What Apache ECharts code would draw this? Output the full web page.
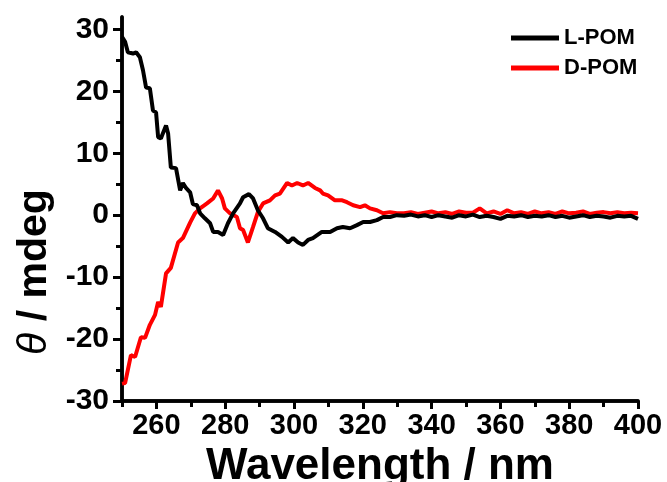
<!DOCTYPE html>
<html>
<head>
<meta charset="utf-8">
<script src="https://cdn.jsdelivr.net/npm/echarts@6/dist/echarts.min.js"></script>
<style>
  html, body { margin: 0; padding: 0; background: #fff; }
  #main { width: 667px; height: 482px; }
</style>
</head>
<body>
<div id="main"></div>
<script>
// L-POM (black)
var lWave = [250, 250.9, 251.7, 253.2, 254.1, 255.2, 256.1, 257.0, 258.1, 259.0, 259.9, 260.5, 261.3, 262.8, 263.4, 264.2,
  265.7, 266.9, 267.7, 268.6, 269.8, 270.6, 271.8, 272.7, 274.1, 275.6, 276.5, 277.9, 279.4, 280.8, 282.3, 284.3,
  285.2, 286.9, 288.1, 289.5, 291.0, 292.4, 294.5, 296.5, 298.3, 299.7, 301.2, 302.6, 304.1, 305.5, 308.1, 310.5,
  312.5, 314.2, 316.3, 318.3, 320.1, 322.1, 324.1, 325.9, 327.9, 329.9,
  332, 334, 336, 338, 340, 342, 344, 346, 348, 350, 352, 354, 356, 358, 360, 362, 364, 366, 368, 370,
  372, 374, 376, 378, 380, 382, 384, 386, 388, 390, 392, 394, 396, 398, 400]
var lTheta = [28.8, 28.0, 26.3, 26.1, 26.3, 25.5, 23.4, 20.6, 20.5, 16.9, 16.6, 12.6, 12.4, 14.5, 13.2, 7.7,
  7.6, 4.0, 5.2, 4.4, 3.7, 1.8, 1.6, 0.3, -0.5, -1.3, -2.7, -2.7, -3.2, -1.3, 0.3, 1.9,
  2.9, 3.4, 2.7, 0.8, -0.5, -2.1, -2.7, -3.5, -4.4, -3.7, -4.4, -4.8, -4.0, -3.7, -2.7, -2.7,
  -2.1, -1.9, -2.1, -1.6, -1.1, -1.1, -0.8, -0.3, -0.3, 0.0,
  -0.1, 0.1, -0.2, 0.0, -0.3, 0.0, -0.2, -0.4, 0.0, -0.2, 0.1, -0.3, -0.1, -0.3, -0.6, -0.1, -0.2, 0.0, -0.3, -0.1,
  -0.2, 0.0, -0.3, -0.1, -0.4, -0.2, 0.0, -0.3, -0.1, -0.2, -0.4, -0.1, -0.2, -0.1, -0.6]

// D-POM (red)
var dWave = [250, 250.9, 252.6, 253.8, 255.5, 256.7, 258.1, 259.6, 260.5, 261.3, 262.8, 264.2, 266.3, 267.7, 269.8, 271.2,
  272.7, 274.7, 276.5, 277.9, 279.1, 279.9, 281.4, 283.4, 284.3, 285.2, 286.6, 288.1, 289.5, 291.0, 293.0, 294.5,
  295.9, 298.0, 299.4, 300.9, 302.6, 304.1, 306.1, 307.6, 308.4, 309.9, 311.9, 314.0, 315.4, 317.2, 319.2, 320.6,
  322.1, 324.1, 325.9, 327.9, 329.9,
  332, 334, 336, 338, 340, 342, 344, 346, 348, 350, 352, 354, 356, 358, 360, 362, 364, 366, 368, 370,
  372, 374, 376, 378, 380, 382, 384, 386, 388, 390, 392, 394, 396, 398, 400]
var dTheta = [-27.2, -27.1, -22.6, -22.9, -19.7, -19.8, -17.7, -16.1, -14.0, -14.8, -9.4, -8.5, -4.4, -3.7, -1.2, 0.3,
  1.1, 1.9, 2.7, 4.0, 2.7, 1.1, 0.3, -0.3, -2.1, -2.4, -4.4, -1.9, 0.5, 1.9, 2.4, 3.2,
  3.5, 5.2, 4.8, 5.2, 4.8, 5.2, 4.4, 4.0, 3.5, 3.2, 2.4, 2.4, 2.1, 1.6, 1.3, 1.6,
  1.1, 0.8, 0.3, 0.5, 0.3,
  0.3, 0.5, 0.2, 0.4, 0.6, 0.3, 0.5, 0.2, 0.6, 0.4, 0.4, 1.1, 0.3, 0.6, 0.2, 0.8, 0.3, 0.5, 0.2, 0.6,
  0.3, 0.5, 0.2, 0.6, 0.3, 0.4, 0.6, 0.2, 0.4, 0.5, 0.3, 0.5, 0.3, 0.4, 0.3]

var xMajor = [260, 280, 300, 320, 340, 360, 380, 400]
var xMinor = [250, 270, 290, 310, 330, 350, 370, 390]
var yMajor = [-30, -20, -10, 0, 10, 20, 30]
var yMinor = [-25, -15, -5, 5, 15, 25]

function zip(xs, ys) {
  return xs.map(function (x, i) { return [x, ys[i]] })
}

var font = 'Liberation Sans, Arial, sans-serif'
var myChart = echarts.init(document.getElementById('main'))
myChart.setOption({
  animation: false,
  grid: { left: 122, right: 29, top: 17, bottom: 81, containLabel: false, outerBoundsMode: 'none' },
  legend: {
    orient: 'vertical',
    left: 506,
    top: 22,
    icon: 'rect',
    itemWidth: 48,
    itemHeight: 5,
    itemGap: 8,
    data: ['L-POM', 'D-POM'],
    textStyle: { fontFamily: font, fontWeight: 'bold', fontSize: 22, color: '#000' }
  },
  xAxis: [
    {
      type: 'value', min: 250, max: 400,
      name: 'Wavelength / nm', nameLocation: 'middle', nameGap: 40,
      nameTextStyle: { fontFamily: font, fontWeight: 'bold', fontSize: 44, color: '#000' },
      axisLine: { onZero: false, lineStyle: { color: '#000', width: 3.5 } },
      axisTick: { customValues: xMajor, length: 8, lineStyle: { width: 3, color: '#000' } },
      axisLabel: { customValues: xMajor, margin: 10, fontFamily: font, fontWeight: 'bold', fontSize: 29, color: '#000' },
      splitLine: { show: false }
    },
    {
      type: 'value', min: 250, max: 400, position: 'bottom',
      axisLine: { show: true, onZero: false, lineStyle: { color: '#000', width: 3.5 } },
      axisTick: { show: true, customValues: xMinor, length: 6, lineStyle: { width: 3, color: '#000' } },
      axisLabel: { show: false },
      splitLine: { show: false }
    }
  ],
  yAxis: [
    {
      type: 'value', min: -30, max: 32,
      name: '{t|θ} / mdeg', nameLocation: 'middle', nameRotate: 90, nameGap: 60,
      nameTextStyle: {
        fontFamily: font, fontWeight: 'bold', fontSize: 41, color: '#000',
        padding: [0, 126, 0, 0],
        rich: { t: { fontFamily: font, fontStyle: 'italic', fontWeight: 'normal', fontSize: 41, color: '#000' } }
      },
      axisLine: { show: true, onZero: false, lineStyle: { color: '#000', width: 3.5 } },
      axisTick: { show: true, customValues: yMajor, length: 9, lineStyle: { width: 3, color: '#000' } },
      axisLabel: { customValues: yMajor, margin: 13, fontFamily: font, fontWeight: 'bold', fontSize: 30, color: '#000' },
      splitLine: { show: false }
    },
    {
      type: 'value', min: -30, max: 32, position: 'left',
      axisLine: { show: true, onZero: false, lineStyle: { color: '#000', width: 3.5 } },
      axisTick: { show: true, customValues: yMinor, length: 6, lineStyle: { width: 3, color: '#000' } },
      axisLabel: { show: false },
      splitLine: { show: false }
    }
  ],
  series: [
    {
      name: 'D-POM', type: 'line', showSymbol: false, symbol: 'none',
      data: zip(dWave, dTheta),
      itemStyle: { color: '#ff0000' },
      lineStyle: { color: '#ff0000', width: 4 }
    },
    {
      name: 'L-POM', type: 'line', showSymbol: false, symbol: 'none',
      data: zip(lWave, lTheta),
      itemStyle: { color: '#000' },
      lineStyle: { color: '#000', width: 4 }
    }
  ]
})
</script>
</body>
</html>
